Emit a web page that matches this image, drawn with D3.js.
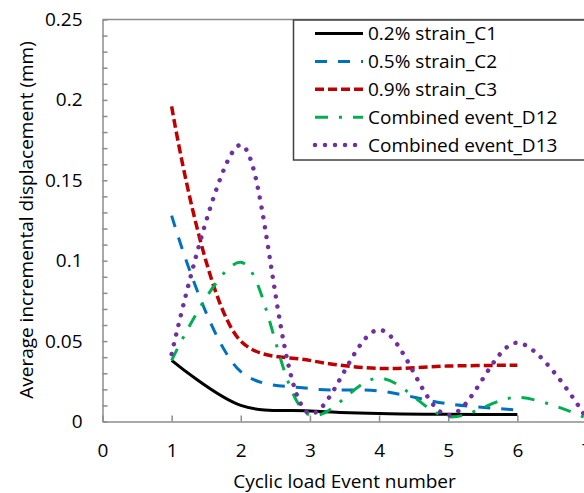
<!DOCTYPE html>
<html>
  <head>
    <meta charset="utf-8">
    <title>Average incremental displacement</title>
    <script src="https://cdn.jsdelivr.net/npm/d3@7"></script>
    <style>
      body { margin: 0; background: #fff; }
      text { font-family: "Open Sans", sans-serif; fill: #000; }
    </style>
  </head>
  <body>
    <script>
     // data
     let events = [1, 2, 3, 4, 5, 6, 7];
     let c1  = [0.038, 0.010, 0.0066, 0.005, 0.0045, 0.0043];
     let c2  = [0.128, 0.031, 0.0205, 0.019, 0.011, 0.0072];
     let c3  = [0.196, 0.050, 0.038, 0.033, 0.0345, 0.035];
     let d12 = [0.038, 0.099, 0.004, 0.027, 0.003, 0.015, 0.002];
     let d13 = [0.042, 0.172, 0.005, 0.057, 0.004, 0.049, 0.002];
     let seriesNames = ["0.2% strain_C1", "0.5% strain_C2", "0.9% strain_C3",
                        "Combined event_D12", "Combined event_D13"];
     let xTicks = [0, 1, 2, 3, 4, 5, 6, 7];
     let yLabels = [0, 0.05, 0.1, 0.15, 0.2, 0.25];

     let styles = [
       {color: "#000000", width: 3,   dash: null},
       {color: "#0070C0", width: 3,   dash: "12,11"},
       {color: "#C00000", width: 3.5, dash: "9,4"},
       {color: "#00B050", width: 3,   dash: "13,11,3,11"},
       {color: "#7030A0", width: 4.5, dash: "0.01,10", cap: "round"}
     ];
     let allSeries = [c1, c2, c3, d12, d13];

     let w = 584, h = 493;
     let svg = d3.select("body").append("svg")
                 .attr("width", w)
                 .attr("height", h)
                 .style("display", "block");

     let xScale = d3.scaleLinear().domain([0, 7]).range([102.5, 586.5]);
     let yScale = d3.scaleLinear().domain([0, 0.25]).range([421.5, 19.5]);

     // plot area top border
     svg.append("line")
        .attr("x1", xScale(0)).attr("x2", xScale(7))
        .attr("y1", yScale(0.25)).attr("y2", yScale(0.25))
        .attr("stroke", "#8c8c8c").attr("stroke-width", 1.5);

     // axes
     let yAxis = d3.axisLeft(yScale)
                   .tickValues(d3.range(0, 26).map((i) => i / 100))
                   .tickSizeInner(-5)
                   .tickSizeOuter(0)
                   .tickPadding(20)
                   .tickFormat((d) => {
                     let hit = yLabels.find((v) => Math.abs(v - d) < 1e-9);
                     return hit === undefined ? "" : String(hit);
                   });
     let gy = svg.append("g")
                 .attr("transform", "translate(" + xScale(0) + ",0)")
                 .call(yAxis);

     let xAxis = d3.axisBottom(xScale)
                   .tickValues(xTicks)
                   .tickSizeInner(-6)
                   .tickSizeOuter(0)
                   .tickPadding(22)
                   .tickFormat(d3.format("d"));
     let gx = svg.append("g")
                 .attr("transform", "translate(0," + yScale(0) + ")")
                 .call(xAxis);

     [gx, gy].forEach((g) => {
       g.select(".domain").attr("stroke", "#8c8c8c").attr("stroke-width", 1.5);
       g.selectAll(".tick line").attr("stroke", "#8c8c8c").attr("stroke-width", 1.5);
       g.selectAll(".tick text").style("font-family", "Open Sans, sans-serif")
        .style("font-size", "19px").attr("fill", "#000");
     });

     // series
     let line = d3.line()
                  .x((d) => xScale(d[0]))
                  .y((d) => yScale(d[1]))
                  .curve(d3.curveCatmullRom.alpha(0.5));

     allSeries.forEach((vals, i) => {
       let pts = vals.map((v, j) => [events[j], v]);
       let s = styles[i];
       svg.append("path")
          .attr("d", line(pts))
          .attr("fill", "none")
          .attr("stroke", s.color)
          .attr("stroke-width", s.width)
          .attr("stroke-dasharray", s.dash)
          .attr("stroke-linecap", s.cap || "butt")
          .attr("stroke-linejoin", "round");
     });

     // axis titles
     svg.append("text")
        .attr("x", xScale(3.5))
        .attr("y", 488)
        .attr("text-anchor", "middle")
        .style("font-size", "19px")
        .text("Cyclic load Event number");

     svg.append("text")
        .attr("transform", "translate(33,220) rotate(-90)")
        .attr("text-anchor", "middle")
        .style("font-size", "19px")
        .text("Average incremental displacement (mm)");

     // legend
     let lg = svg.append("g");
     lg.append("rect")
       .attr("x", 293.5).attr("y", 20)
       .attr("width", 320).attr("height", 140)
       .attr("fill", "#fff")
       .attr("stroke", "#404040")
       .attr("stroke-width", 1.5);

     seriesNames.forEach((name, i) => {
       let base = 40 + i * 27.9;
       let s = styles[i];
       lg.append("line")
         .attr("x1", 315).attr("x2", 363)
         .attr("y1", base - 6.5).attr("y2", base - 6.5)
         .attr("stroke", s.color)
         .attr("stroke-width", s.width)
         .attr("stroke-dasharray", s.dash)
         .attr("stroke-linecap", s.cap || "butt");
       lg.append("text")
         .attr("x", 368).attr("y", base)
         .style("font-size", "19px")
         .text(name);
     });
    </script>
  </body>
</html>
